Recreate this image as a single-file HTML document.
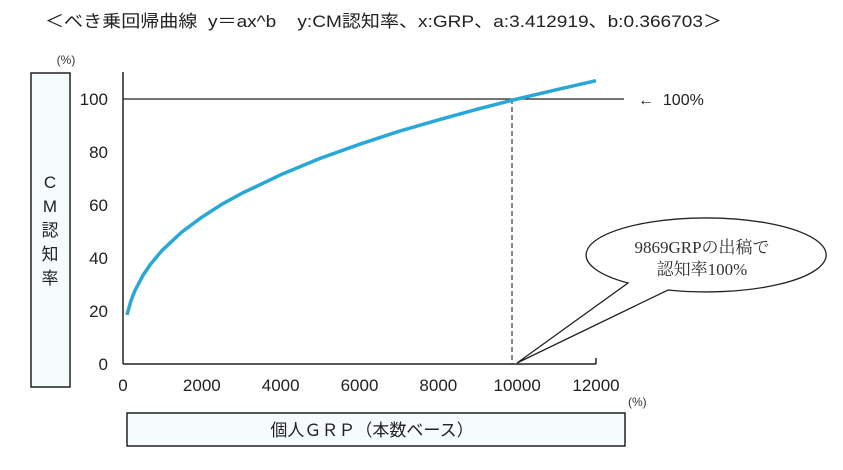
<!DOCTYPE html>
<html><head><meta charset="utf-8"><style>
body{margin:0;background:#fff;width:843px;height:465px;overflow:hidden;font-family:"Liberation Sans","Noto Sans CJK JP",sans-serif}
</style></head><body>
<svg width="843" height="465" font-family="Liberation Sans, Noto Sans CJK JP, sans-serif">
<text x="45" y="27" font-size="17" fill="#222" textLength="677" lengthAdjust="spacingAndGlyphs" style="white-space:pre">＜べき乗回帰曲線  y＝ax^b    y:CM認知率、x:GRP、a:3.412919、b:0.366703＞</text>
<text x="66" y="64" font-size="12" fill="#333" text-anchor="middle">(%)</text>
<rect x="31" y="73" width="39" height="314" fill="#f6fcfe" stroke="#222" stroke-width="1.5"/>
<text x="50" y="188" font-size="17" fill="#222" text-anchor="middle"><tspan x="50" dy="0">C</tspan><tspan x="50" dy="24">M</tspan><tspan x="50" dy="24">認</tspan><tspan x="50" dy="24">知</tspan><tspan x="50" dy="24">率</tspan></text>
<rect x="127" y="413" width="498" height="33" fill="#f6fcfe" stroke="#222" stroke-width="1.5"/>
<text x="372" y="436" font-size="17" fill="#222" text-anchor="middle">個人ＧＲＰ（本数ベース）</text>
<text x="628" y="406" font-size="12" fill="#333">(%)</text>
<g id="plot"></g>
<text x="638" y="105" font-size="16" fill="#222" style="white-space:pre">←  100%</text>
<path d="M628,283 A120,37 0 1 1 668,290 L517,363 Z" fill="#fff" stroke="#222" stroke-width="1.3"/>
<text x="702" y="253" font-size="17" fill="#333" text-anchor="middle" font-family="Liberation Serif, Noto Serif CJK SC, serif">9869GRPの出稿で</text>
<text x="702" y="275" font-size="17" fill="#333" text-anchor="middle" font-family="Liberation Serif, Noto Serif CJK SC, serif">認知率100%</text>
</svg>
<script>
const xTicks=[0,2000,4000,6000,8000,10000,12000];
const yTicks=[0,20,40,60,80,100];
const grpValues=[100,200,300,500,700,1000,1500,2000,2500,3000,4000,5000,6000,7000,8000,9000,10000,11000,12000];
const awareness=[18.5,23.8,27.6,33.3,37.7,43.0,49.9,55.4,60.2,64.3,71.4,77.6,82.9,87.8,92.1,96.2,100.0,103.5,106.9];
const target=[9869];
const refLevel=[100];
const NS="http://www.w3.org/2000/svg";
const X0=123,X1=596,Y0=364,Y1=99;
const sx=v=>X0+(v-0)/(12000-0)*(X1-X0);
const sy=v=>Y0-(v-0)/(100-0)*(Y0-Y1);
const g=document.getElementById('plot');
function mk(t,a){const e=document.createElementNS(NS,t);for(const k in a)e.setAttribute(k,a[k]);g.appendChild(e);return e;}
let e=mk('line',{x1:X0,y1:72,x2:X0,y2:Y0,stroke:'#222','stroke-width':1.5});


e=mk('line',{x1:X0,y1:Y0,x2:X1,y2:Y0,stroke:'#222','stroke-width':1.5});


e=mk('line',{x1:X1,y1:Y0,x2:X1,y2:Y0-6,stroke:'#222','stroke-width':1.5});


xTicks.forEach(v=>{const t=mk('text',{x:sx(v),y:391,'font-size':17,'text-anchor':'middle',fill:'#222'});t.textContent=v;

});
yTicks.forEach(v=>{const t=mk('text',{x:108,y:sy(v)+6,'font-size':17,'text-anchor':'end',fill:'#222'});t.textContent=v;

});
e=mk('line',{x1:X0,y1:sy(refLevel[0]),x2:624,y2:sy(refLevel[0]),stroke:'#222','stroke-width':1.3});


e=mk('line',{x1:sx(target[0]),y1:sy(refLevel[0]),x2:sx(target[0]),y2:Y0,stroke:'#333','stroke-width':1.2,'stroke-dasharray':'5,3'});


e=mk('polyline',{points:grpValues.map((v,i)=>sx(v)+','+sy(awareness[i])).join(' '),fill:'none',stroke:'#2aa7d9','stroke-width':3.5,'stroke-linejoin':'round'});


</script>
</body></html>
